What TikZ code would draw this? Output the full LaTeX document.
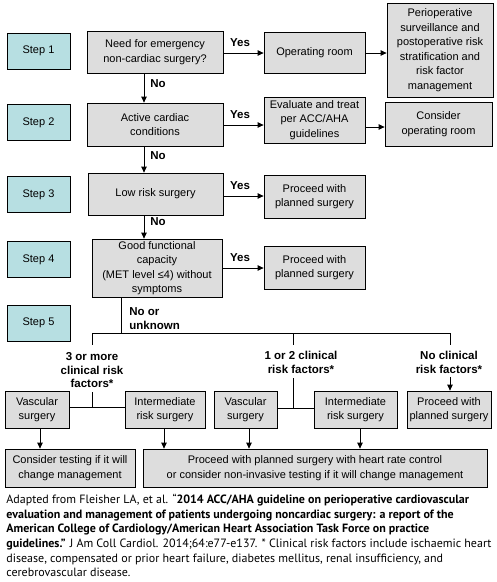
\documentclass[tikz,border=0pt]{standalone}
\usepackage{fontspec}
\setmainfont{Liberation Sans}
\newfontfamily\capfont{PT Sans}
\usetikzlibrary{arrows.meta,calc}
\definecolor{stepfill}{RGB}{183,223,226}
\definecolor{boxfill}{RGB}{221,221,221}
\begin{document}
\begin{tikzpicture}[x=1pt,y=-1pt,
  every node/.style={font=\fontsize{11}{14.5}\selectfont},
  stepbox/.style={draw,fill=stepfill,minimum width=63pt,minimum height=36pt,inner sep=0pt,align=center},
  gbox/.style={draw,fill=boxfill,inner sep=0pt,align=center},
  lbl/.style={font=\fontsize{11.5}{13.5}\selectfont\bfseries,inner sep=0pt,align=center},
  arr/.style={-{Triangle[length=6pt,width=5.5pt]}},
  line width=0.8pt]
\useasboundingbox (0,0) rectangle (497,582);
% steps
\node[stepbox] (s1) at (38.5,51) {Step 1};
\node[stepbox] (s2) at (38.5,122.5) {Step 2};
\node[stepbox] (s3) at (38.5,194.5) {Step 3};
\node[stepbox] (s4) at (38.5,259.5) {Step 4};
\node[stepbox] (s5) at (38.5,323) {Step 5};
% main column
\node[gbox,minimum width=136pt,minimum height=42pt] (q1) at (155,52) {Need for emergency\\non-cardiac surgery?};
\node[gbox,minimum width=136pt,minimum height=43pt] (q2) at (155,124.5) {Active cardiac\\conditions};
\node[gbox,minimum width=135pt,minimum height=42pt] (q3) at (155.5,194) {Low risk surgery};
\node[gbox,minimum width=130pt,minimum height=58pt] (q4) at (157,268) {Good functional\\capacity\\(MET level ≤4) without\\symptoms};
% right column
\node[gbox,minimum width=101pt,minimum height=41pt] (or) at (314.5,52.5) {Operating room};
\node[gbox,minimum width=106pt,minimum height=94pt] (peri) at (440,50) {Perioperative\\surveillance and\\postoperative risk\\stratification and\\risk factor\\management};
\node[gbox,minimum width=101pt,minimum height=46pt] (ev) at (314.5,120) {Evaluate and treat\\per ACC/AHA\\guidelines};
\node[gbox,minimum width=107pt,minimum height=44pt] (cor) at (438.5,124) {Consider\\operating room};
\node[gbox,minimum width=101pt,minimum height=43pt] (p1) at (314.5,196.5) {Proceed with\\planned surgery};
\node[gbox,minimum width=101pt,minimum height=43pt] (p2) at (314.5,267.5) {Proceed with\\planned surgery};
% step 5 row
\node[gbox,minimum width=64pt,minimum height=37pt] (v1) at (37,409.5) {Vascular\\surgery};
\node[gbox,minimum width=80pt,minimum height=37pt] (i1) at (165,409.5) {Intermediate\\risk surgery};
\node[gbox,minimum width=63pt,minimum height=37pt] (v2) at (245.5,409.5) {Vascular\\surgery};
\node[gbox,minimum width=83pt,minimum height=37pt] (i2) at (355.5,409.5) {Intermediate\\risk surgery};
\node[gbox,minimum width=84pt,minimum height=37pt] (p3) at (449,409.5) {Proceed with\\planned surgery};
\node[gbox,minimum width=130pt,minimum height=38pt] (ct) at (70,468) {Consider testing if it will\\change management};
\node[gbox,minimum width=344pt,minimum height=38pt] (big) at (315,468) {Proceed with planned surgery with heart rate control\\or consider non-invasive testing if it will change management};
% labels
\node[lbl] (y1) at (240,43) {Yes};
\node[lbl] (y2) at (240,115) {Yes};
\node[lbl] (y3) at (240,186) {Yes};
\node[lbl] (y4) at (240,258) {Yes};
\node[lbl,anchor=west] (n1) at (150,84) {No};
\node[lbl,anchor=west] (n2) at (150,156) {No};
\node[lbl,anchor=west] (n3) at (150,222) {No};
\node[lbl,anchor=west,align=left] (n4) at (129,318.5) {No or\\unknown};
\node[lbl] (r1) at (92,370.5) {3 or more\\clinical risk\\factors*};
\node[lbl] (r2) at (301,362.5) {1 or 2 clinical\\risk factors*};
\node[lbl] (r3) at (449,362.5) {No clinical\\risk factors*};
% coordinates
\coordinate (ax) at (144,0);
\coordinate (t0) at (121,333);
\coordinate (tl) at (92,333);
\coordinate (tm) at (293,333);
\coordinate (tr) at (450,333);
\coordinate (jl) at (92,407);
\coordinate (jm) at (293,408);
% connectors
\draw[arr] (q1.south -| ax) -- (q2.north -| ax);
\draw[arr] (q2.south -| ax) -- (q3.north -| ax);
\draw[arr] (q3.south -| ax) -- (q4.north -| ax);
\draw[arr] (q1.east |- 0,53) -- (or.west |- 0,53);
\draw[arr] (or.east |- 0,53) -- (peri.west |- 0,53);
\draw[arr] (q2.east |- 0,125) -- (ev.west |- 0,125);
\draw[arr] (ev.east |- 0,127) -- (cor.west |- 0,127);
\draw[arr] (q3.east |- 0,196) -- (p1.west |- 0,196);
\draw[arr] (q4.east |- 0,268) -- (p2.west |- 0,268);
\draw (q4.south -| t0) -- (t0);
\draw (tl) -- (tr);
\draw (tl) -- ++(0,12);
\draw (tm) -- ++(0,12);
\draw (tr) -- ++(0,12);
\draw (jl) -- ++(0,-15);
\draw (jm) -- ++(0,-30);
\draw (v1.east |- jl) -- (i1.west |- jl);
\draw (v2.east |- jm) -- (i2.west |- jm);
\draw[arr] (tr |- r3.south) ++(0,3) -- (p3.north -| tr);
\draw[arr] (v1.south -| 40,0) -- (ct.north -| 40,0);
\draw[arr] (i1.south -| 164,0) -- (big.north -| 164,0);
\draw[arr] (v2.south -| 249,0) -- (big.north -| 249,0);
\draw[arr] (i2.south -| 360,0) -- (big.north -| 360,0);
% caption
\node[anchor=north west,inner sep=0pt,align=left,font=\capfont\fontsize{12}{14.6}\selectfont] (cap) at (6,494)
{Adapted from Fleisher LA, et al. “\textbf{2014 ACC/AHA guideline on perioperative cardiovascular}\\
\textbf{evaluation and management of patients undergoing noncardiac surgery: a report of the}\\
\textbf{American College of Cardiology/American Heart Association Task Force on practice}\\
\textbf{guidelines.”} J Am Coll Cardiol. 2014;64:e77-e137. * Clinical risk factors include ischaemic heart\\
disease, compensated or prior heart failure, diabetes mellitus, renal insufficiency, and\\
cerebrovascular disease.};
\end{tikzpicture}
\end{document}
